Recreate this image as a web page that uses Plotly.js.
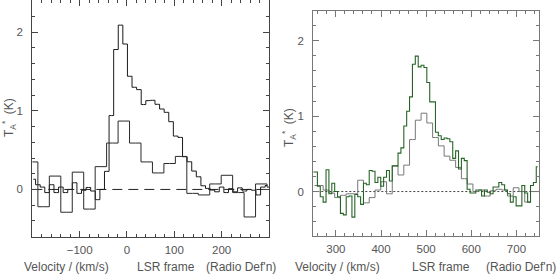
<!DOCTYPE html>
<html><head><meta charset="utf-8">
<script src="https://cdn.plot.ly/plotly-3.0.1.min.js"></script>
<style>html,body{margin:0;padding:0;background:#fff;} #chart{width:559px;height:274px;}</style>
</head><body><div id="chart"></div>
<script>
// ---- Left panel: fine-channel spectrum (km/s, K)
const leftFineVel = [-197.9,-188.2,-178.5,-168.8,-159.1,-149.4,-139.7,-130.0,-120.3,-110.6,-100.9,-91.2,-81.5,-71.8,-62.1,-52.4,-42.7,-33.0,-23.3,-13.6,-3.9,5.8,15.5,25.2,34.9,44.6,54.3,64.0,73.7,83.4,93.1,102.8,112.5,122.2,131.9,141.6,151.3,161.0,170.7,180.4,190.1,199.8,209.5,219.2,228.9,238.6,248.3,258.0,267.7,277.4,287.1,296.8];
const leftFineT = [0.13,0.06,0.03,-0.04,0.06,-0.04,0.03,-0.04,0.00,0.085,-0.05,-0.01,0.025,-0.02,-0.13,0.00,0.23,0.94,1.78,2.09,1.85,1.44,1.30,1.27,1.08,1.13,1.134,1.083,1.023,0.981,0.862,0.679,0.662,0.416,0.352,0.234,0.161,0.047,0.013,-0.008,-0.03,0.03,-0.04,0.01,-0.03,0.02,-0.02,0.00,-0.01,-0.07,0.03,0.05];
// ---- Left panel: coarse-channel spectrum
const leftCoarseVel = [-200.3,-176.1,-151.9,-127.7,-103.5,-79.3,-55.1,-30.9,-6.7,17.5,41.7,65.9,90.1,114.3,138.5,162.7,186.9,211.1,235.3,259.5,283.7,307.9];
const leftCoarseT = [0.35,-0.22,0.17,-0.29,0.22,-0.25,0.29,0.59,0.87,0.59,0.35,0.21,0.33,0.42,-0.05,-0.07,0.07,0.18,-0.04,-0.35,0.07,0.03];
// ---- Right panel: green fine-channel spectrum
const rightGreenVel = [249.5,255.9,262.3,268.6,275.0,281.4,287.8,294.2,300.5,306.9,313.3,319.7,326.1,332.4,338.8,345.2,351.6,358.0,364.3,370.7,377.1,383.5,389.9,396.2,402.6,409.0,415.4,421.8,428.1,434.5,440.9,447.3,453.7,460.0,466.4,472.8,479.2,485.6,491.9,498.3,504.7,511.1,517.5,523.8,530.2,536.6,543.0,549.4,555.7,562.1,568.5,574.9,581.3,587.6,594.0,600.4,606.8,613.2,619.5,625.9,632.3,638.7,645.1,651.4,657.8,664.2,670.6,677.0,683.3,689.7,696.1,702.5,708.9,715.2,721.6,728.0,734.4,740.8,747.1];
const rightGreenT = [0.26,0.26,0.07,-0.07,-0.14,0.29,-0.03,0.11,0.00,-0.07,-0.29,-0.31,-0.07,-0.06,-0.34,-0.04,-0.07,-0.17,0.11,0.09,0.28,0.27,0.12,0.19,0.07,0.19,0.28,0.14,0.34,0.34,0.51,0.58,0.87,1.065,1.257,1.69,1.797,1.655,1.677,1.646,1.447,1.19,1.19,0.787,0.74,0.69,0.71,0.70,0.66,0.44,0.54,0.30,0.44,0.41,0.03,-0.02,-0.02,0.02,0.02,-0.06,0.02,-0.01,-0.03,0.06,0.06,0.12,0.09,0.02,-0.03,-0.14,-0.07,-0.19,-0.19,0.08,-0.02,-0.14,0.08,0.12,0.33];
// ---- Right panel: grey coarse-channel spectrum
const rightGreyVel = [252.7,265.5,278.2,291.0,303.7,316.5,329.3,342.0,354.8,367.5,380.3,393.1,405.8,418.6,431.3,444.1,456.9,469.6,482.4,495.1,507.9,520.7,533.4,546.2,558.9,571.7,584.5,597.2,610.0,622.7,635.5,648.3,661.0,673.8,686.5,699.3,712.1,724.8,737.6,750.3];
const rightGreyT = [0.08,0.08,0.02,-0.02,-0.08,-0.05,-0.03,-0.03,0.15,-0.15,-0.08,0.02,0.13,-0.03,0.34,0.22,0.35,0.69,0.947,1.04,0.91,0.717,0.606,0.47,0.415,0.32,0.17,0.10,0.00,0.02,-0.06,0.01,0.03,0.02,-0.06,0.05,0.00,-0.14,0.00,0.00];

const leftXTicks = [-100,0,100,200];
const rightXTicks = [300,400,500,600,700];
const yTicks = [0,1,2];
const leftRange = [-200,300], rightRange = [250,750];

const traces = [
  {x:leftFineVel, y:leftFineT, xaxis:'x', yaxis:'y', type:'scatter', mode:'lines', line:{shape:'hvh', color:'#1a1a1a', width:1}},
  {x:leftCoarseVel, y:leftCoarseT, xaxis:'x', yaxis:'y', type:'scatter', mode:'lines', line:{shape:'hvh', color:'#2a2a2a', width:1}},
  {x:rightGreyVel, y:rightGreyT, xaxis:'x2', yaxis:'y2', type:'scatter', mode:'lines', line:{shape:'hvh', color:'#777777', width:1}},
  {x:rightGreenVel, y:rightGreenT, xaxis:'x2', yaxis:'y2', type:'scatter', mode:'lines', line:{shape:'hvh', color:'#266426', width:1.1}}
];

function xax(domain, range, vals, col){
  return {domain:domain, range:range, tickmode:'array', tickvals:vals, ticks:'inside', ticklen:6, tickcolor:col,
    showline:true, linecolor:col, linewidth:1, mirror:'allticks', showgrid:false, zeroline:false,
    ticklabelstandoff:2, tickfont:{size:11.5, color:'#555'},
    minor:{dtick:20, tick0:0, ticks:'inside', ticklen:3, tickcolor:col, showgrid:false}};
}
function yax(domain, range, col, anchor){
  return {domain:domain, range:range, anchor:anchor, tickmode:'array', tickvals:yTicks, ticks:'inside', ticklen:6, tickcolor:col,
    showline:true, linecolor:col, linewidth:1, mirror:'allticks', showgrid:false, zeroline:false,
    ticklabelstandoff:6, tickfont:{size:11.5, color:'#555'},
    minor:{dtick:0.2, tick0:0, ticks:'inside', ticklen:3, tickcolor:col, showgrid:false}};
}

const W = 559, H = 274;
const px = v => v / W, py = v => 1 - v / H;

const xlab = (x, t, anchor) => ({xref:'paper', yref:'paper', x:px(x), y:py(267), xanchor:anchor, yanchor:'middle', text:t, showarrow:false, font:{size:12, color:'#555'}});

const layout = {
  width:W, height:H, margin:{l:0,r:0,t:0,b:0}, showlegend:false,
  paper_bgcolor:'#ffffff', plot_bgcolor:'#ffffff',
  font:{family:'Liberation Sans, Arial, sans-serif', size:11, color:'#555'},
  xaxis: Object.assign(xax([px(32.3), px(269)], leftRange, leftXTicks, '#444'), {anchor:'y'}),
  yaxis: yax([py(237), 1], [-0.605, 2.41], '#444', 'x'),
  xaxis2: Object.assign(xax([px(313.3), px(539)], rightRange, rightXTicks, '#777'), {anchor:'y2'}),
  yaxis2: yax([py(236), py(10.7)], [-0.59, 2.4], '#777', 'x2'),
  shapes: [
    {type:'line', xref:'x', yref:'y', x0:leftRange[0], x1:leftRange[1], y0:0, y1:0, line:{color:'#222', width:1, dash:'10px,6px'}, layer:'below'},
    {type:'line', xref:'x2', yref:'y2', x0:rightRange[0], x1:rightRange[1], y0:0, y1:0, line:{color:'#444', width:1, dash:'2px,2px'}, layer:'below'}
  ],
  annotations: [
    xlab(22, 'Velocity / (km/s)', 'left'), xlab(166, 'LSR frame', 'center'), xlab(278, "(Radio Def'n)", 'right'),
    xlab(293, 'Velocity / (km/s)', 'left'), xlab(441, 'LSR frame', 'center'), xlab(558, "(Radio Def'n)", 'right'),
    {xref:'paper', yref:'paper', x:px(9), y:py(118), xanchor:'center', yanchor:'middle', textangle:-90, text:'T<sub>A</sub><sup>*</sup>  (K)', showarrow:false, font:{size:12, color:'#555'}},
    {xref:'paper', yref:'paper', x:px(289), y:py(127), xanchor:'center', yanchor:'middle', textangle:-90, text:'T<sub>A</sub><sup>*</sup>  (K)', showarrow:false, font:{size:12, color:'#555'}}
  ]
};

Plotly.newPlot('chart', traces, layout, {staticPlot:true, displayModeBar:false});
</script></body></html>
